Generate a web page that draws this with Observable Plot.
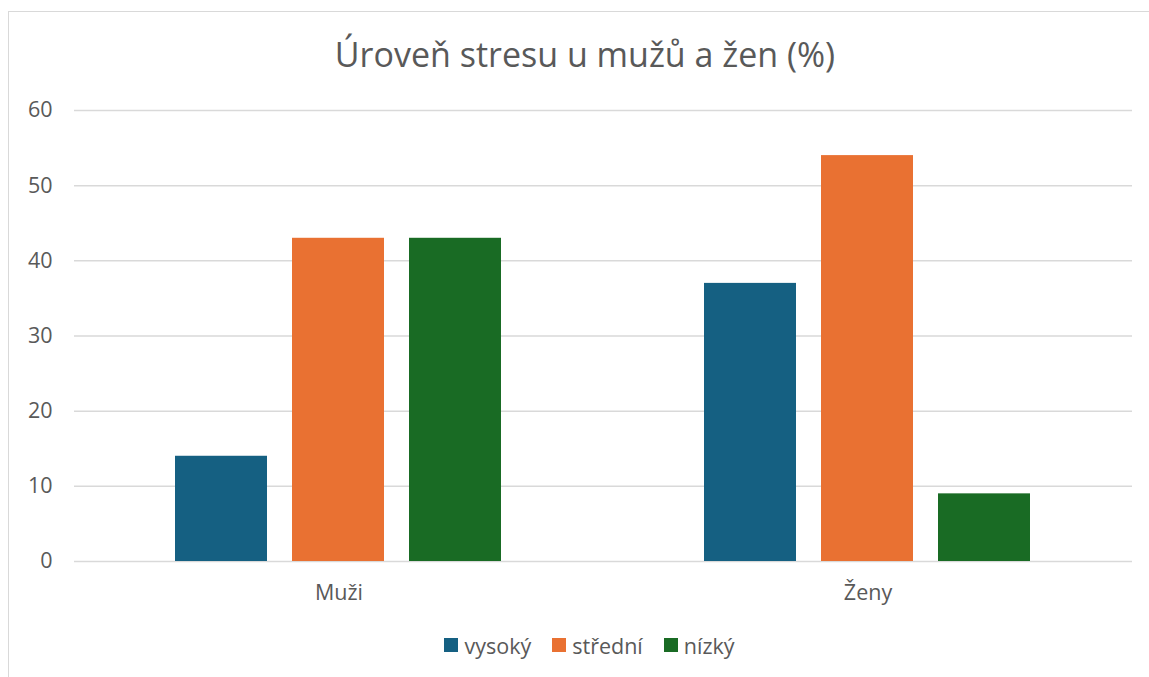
<!DOCTYPE html>
<html>
<head>
<meta charset="utf-8">
<script src="https://cdn.jsdelivr.net/npm/d3@7"></script>
<script src="https://cdn.jsdelivr.net/npm/@observablehq/plot@0.6"></script>
<style>
  html, body { margin: 0; padding: 0; background: #fff; }
  #wrap { position: relative; width: 1149px; height: 677px; overflow: hidden; font-family: "Open Sans", Roboto, sans-serif; color: #595959; }
  #frame { position: absolute; left: 8px; top: 11px; width: 1300px; height: 800px; border: 1.5px solid #d9d9d9; box-sizing: border-box; }
  #title { position: absolute; left: 8px; width: 1154px; top: 37px; text-align: center; font-size: 34px; line-height: 34px; color: #595959; }
  #chart { position: absolute; left: 0; top: 0; }
  #legend { position: absolute; left: 8px; width: 1163px; top: 635px; height: 20px; display: flex; justify-content: center; align-items: center; font-size: 21.5px; color: #595959; }
  .item { display: flex; align-items: center; margin: 0 10.5px; }
  .sw { width: 14px; height: 14px; margin-right: 6px; }
</style>
</head>
<body>
<div id="wrap">
  <div id="frame"></div>
  <div id="title"></div>
  <div id="chart"></div>
  <div id="legend"></div>
</div>
<script>
const titleText = "Úroveň stresu u mužů a žen (%)";
const groups = ["Muži", "Ženy"];
const series = ["vysoký", "střední", "nízký"];
const colors = ["#156082", "#E97132", "#196B24"];
const muzi = [14, 43, 43];
const zeny = [37, 54, 9];
const yTicks = [0, 10, 20, 30, 40, 50, 60];

const values = [muzi, zeny];
const data = [];
groups.forEach((g, gi) => series.forEach((s, si) => data.push({group: g, series: s, value: values[gi][si]})));

document.getElementById("title").textContent = titleText;

const plot = Plot.plot({
  width: 1149,
  height: 620,
  marginTop: 110,
  marginBottom: 59,
  marginLeft: 74,
  marginRight: 17,
  style: {fontFamily: "'Open Sans', Roboto, sans-serif", fontSize: "21.5px", color: "#595959", background: "transparent", overflow: "visible"},
  fx: {domain: groups, padding: 0, label: null},
  x: {domain: series, paddingInner: 0.213, paddingOuter: 0.855, axis: null},
  y: {domain: [0, 60], label: null},
  color: {domain: series, range: colors},
  marks: [
    Plot.gridY(yTicks, {stroke: "#d9d9d9", strokeOpacity: 1, strokeWidth: 1.5}),
    Plot.axisY(yTicks, {tickSize: 0, tickPadding: 22, label: null, fill: "#595959", fontSize: 21.5}),
    Plot.axisFx({anchor: "bottom", tickSize: 0, tickPadding: 23, label: null, fill: "#595959", fontSize: 21.5}),
    Plot.barY(data, {fx: "group", x: "series", y: "value", fill: "series"})
  ]
});
document.getElementById("chart").appendChild(plot);

const legend = document.getElementById("legend");
series.forEach((s, i) => {
  const it = document.createElement("div");
  it.className = "item";
  const sw = document.createElement("div");
  sw.className = "sw";
  sw.style.background = colors[i];
  const t = document.createElement("span");
  t.textContent = s;
  it.appendChild(sw);
  it.appendChild(t);
  legend.appendChild(it);
});
</script>
</body>
</html>
